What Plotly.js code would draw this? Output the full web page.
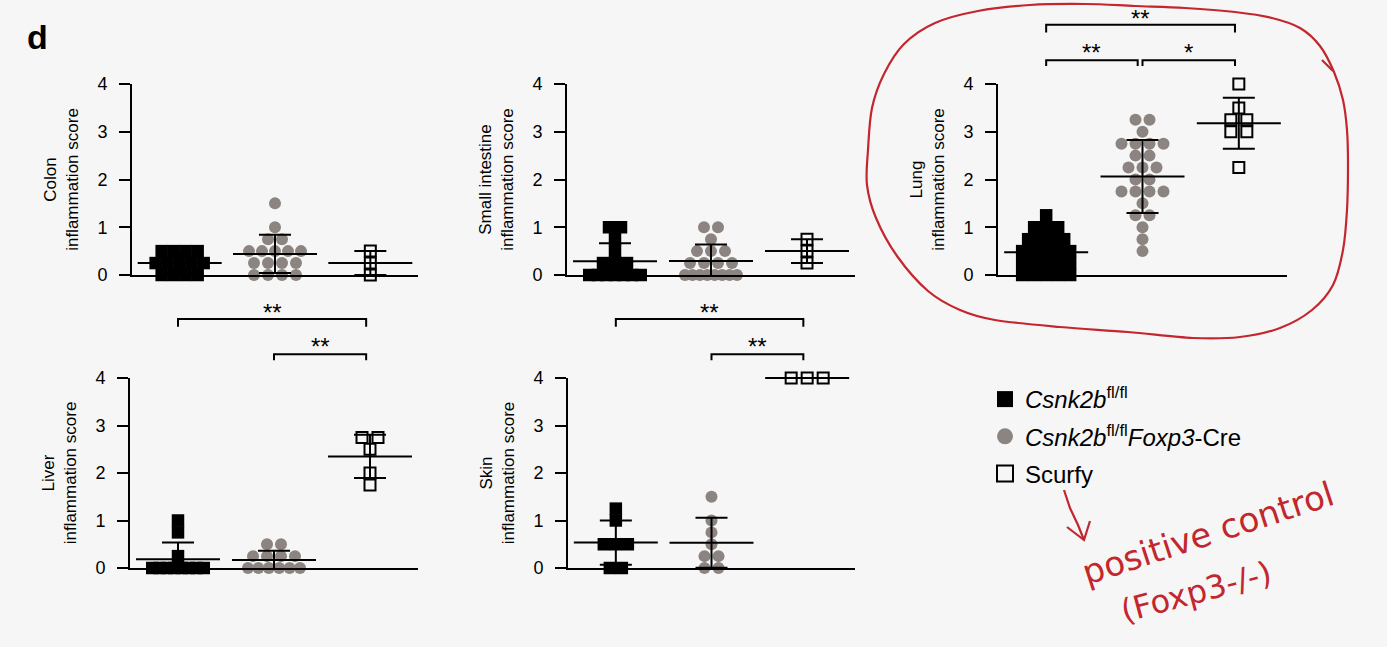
<!DOCTYPE html>
<html>
<head>
<meta charset="utf-8">
<script src="https://cdn.plot.ly/plotly-3.0.1.min.js"></script>
<style>
html,body{margin:0;padding:0;background:#f6f6f6;}
#chart{width:1387px;height:647px;}
</style>
</head>
<body>
<div id="chart"></div>
<script>
// ---------------- DATA ----------------
const groupNames = ['Csnk2b fl/fl', 'Csnk2b fl/fl Foxp3-Cre', 'Scurfy'];
const legendLabels = ['<i>Csnk2b</i><sup>fl/fl</sup>', '<i>Csnk2b</i><sup>fl/fl</sup><i>Foxp3</i>-Cre', 'Scurfy'];
const organs = ['Colon', 'Small intestine', 'Lung', 'Liver', 'Skin'];
const yTickValues = [0, 1, 2, 3, 4];
const yTickLabels = ['0', '1', '2', '3', '4'];

const colonCtrl    = [0.5, 0.5, 0.5, 0.5, 0.25, 0.25, 0.25, 0.25, 0.25, 0, 0, 0, 0];
const colonCre     = [1.5, 1, 0.75, 0.75, 0.5, 0.5, 0.5, 0.5, 0.5, 0.25, 0.25, 0.25, 0.25, 0, 0, 0, 0];
const colonScurfy  = [0.5, 0.25, 0];

const siCtrl       = [1, 1, 0.75, 0.5, 0.25, 0.25, 0.25, 0, 0, 0, 0, 0, 0, 0];
const siCre        = [1, 1, 0.75, 0.5, 0.5, 0.5, 0.25, 0.25, 0.25, 0.25, 0, 0, 0, 0, 0, 0, 0, 0];
const siScurfy     = [0.75, 0.5, 0.25];

const lungCtrl     = [1.25, 1, 1, 1, 0.75, 0.75, 0.75, 0.75, 0.5, 0.5, 0.5, 0.5, 0.5, 0.25, 0.25, 0.25, 0.25, 0.25, 0, 0, 0, 0, 0];
const lungCre      = [3.25, 3.25, 3, 2.75, 2.75, 2.75, 2.75, 2.5, 2.5, 2.25, 2.25, 2.25, 2, 2, 1.75, 1.75, 1.75, 1.75, 1.5, 1.25, 1.25, 1, 0.75, 0.5];
const lungScurfy   = [4, 3.5, 3.25, 3.25, 3, 3, 2.25];

const liverCtrl    = [1, 0.75, 0.25, 0, 0, 0, 0, 0, 0, 0, 0];
const liverCre     = [0.5, 0.5, 0.25, 0.25, 0.25, 0.25, 0, 0, 0, 0, 0, 0];
const liverScurfy  = [2.75, 2.75, 2.5, 2, 1.75];

const skinCtrl     = [1.25, 1, 0.5, 0.5, 0.5, 0, 0];
const skinCre      = [1.5, 1, 0.75, 0.5, 0.25, 0.25, 0, 0];
const skinScurfy   = [4, 4, 4];

// significance comparisons: [group a, group b, label, level]
const lungSig  = [[0, 1, '**', 0], [1, 2, '*', 0], [0, 2, '**', 1]];
const liverSig = [[0, 2, '**', 1], [1, 2, '**', 0]];
const skinSig  = [[0, 2, '**', 1], [1, 2, '**', 0]];

// ---------------- LAYOUT GEOMETRY ----------------
const W = 1387, H = 647;
const FONT = 'Liberation Sans, Arial, Helvetica, sans-serif';
const RED = '#c3262d';
const GRAY = '#8b8480';
const BG = '#f6f6f6';

const panels = [
  {organ: organs[0], data: [colonCtrl, colonCre, colonScurfy], px: [132, 418], py: [84, 275], sig: []},
  {organ: organs[1], data: [siCtrl, siCre, siScurfy],          px: [567, 855], py: [84, 275], sig: []},
  {organ: organs[2], data: [lungCtrl, lungCre, lungScurfy],    px: [998, 1287], py: [84, 275], sig: lungSig},
  {organ: organs[3], data: [liverCtrl, liverCre, liverScurfy], px: [130, 418], py: [378, 568], sig: liverSig},
  {organ: organs[4], data: [skinCtrl, skinCre, skinScurfy],    px: [568, 855], py: [378, 568], sig: skinSig}
];

const markerStyles = [
  {symbol: 'square', size: 12.5, color: '#000000', line: {width: 0}},
  {symbol: 'circle', size: 12, color: GRAY, line: {width: 0}},
  {symbol: 'square', size: 11, color: BG, line: {width: 2, color: '#000000'}}
];
const stepPx = [12, 14, 16];
const maxRowPx = 64;

function mean(a) { return a.reduce((s, v) => s + v, 0) / a.length; }
function sd(a) {
  const m = mean(a);
  if (a.length < 2) return 0;
  return Math.sqrt(a.reduce((s, v) => s + (v - m) * (v - m), 0) / (a.length - 1));
}
// scatter-dot arrangement: equal values form a centred row
function arrange(values, center, step, size, pxPerUnit) {
  const rows = new Map();
  values.forEach((v, i) => { if (!rows.has(v)) rows.set(v, []); rows.get(v).push(i); });
  const xs = new Array(values.length);
  rows.forEach(idx => {
    const n = idx.length;
    const s = n > 1 ? Math.min(step, (maxRowPx - size) / (n - 1)) : 0;
    idx.forEach((id, j) => { xs[id] = center + ((j - (n - 1) / 2) * s) / pxPerUnit; });
  });
  return xs;
}

const traces = [];
const layout = {
  width: W, height: H,
  margin: {l: 0, r: 0, t: 0, b: 0},
  paper_bgcolor: BG, plot_bgcolor: BG,
  font: {family: FONT, color: '#000', size: 17},
  showlegend: true,
  legend: {
    x: 985 / W, y: 1 - 377 / H, xanchor: 'left', yanchor: 'top',
    font: {family: FONT, size: 24, color: '#000'},
    bgcolor: 'rgba(0,0,0,0)', tracegroupgap: 3, itemwidth: 30
  },
  shapes: [], annotations: []
};

panels.forEach((p, k) => {
  const n = k + 1;
  const xa = 'x' + (n === 1 ? '' : n), ya = 'y' + (n === 1 ? '' : n);
  const xaKey = 'xaxis' + (n === 1 ? '' : n), yaKey = 'yaxis' + (n === 1 ? '' : n);
  const pxPerUnit = (p.px[1] - p.px[0]) / 3;

  layout[xaKey] = {
    domain: [p.px[0] / W, p.px[1] / W], range: [-0.5, 2.5], anchor: ya,
    showline: true, linewidth: 2, linecolor: '#000', ticks: '', showticklabels: false,
    showgrid: false, zeroline: false, fixedrange: true
  };
  layout[yaKey] = {
    domain: [1 - p.py[1] / H, 1 - p.py[0] / H], range: [0, 4], anchor: xa,
    showline: true, linewidth: 2, linecolor: '#000',
    ticks: 'outside', ticklen: 11, tickwidth: 2, tickcolor: '#000', ticklabelstandoff: 8,
    tickvals: yTickValues, ticktext: yTickLabels,
    tickfont: {family: FONT, size: 18, color: '#000'},
    showgrid: false, zeroline: false, fixedrange: true,
    title: {text: p.organ + '<br>inflammation score', font: {family: FONT, size: 17, color: '#000'}, standoff: 14}
  };

  // individual animals
  p.data.forEach((vals, g) => {
    traces.push({
      type: 'scatter', mode: 'markers', xaxis: xa, yaxis: ya,
      name: groupNames[g], legendgroup: 'g' + g, showlegend: false,
      x: arrange(vals, g, stepPx[g], markerStyles[g].size, pxPerUnit), y: vals,
      marker: markerStyles[g], cliponaxis: false, hoverinfo: 'y'
    });
  });
  // mean ± SD
  traces.push({
    type: 'scatter', mode: 'markers', xaxis: xa, yaxis: ya, showlegend: false,
    name: p.organ + ' mean ± SD',
    x: [0, 1, 2], y: p.data.map(mean),
    marker: {symbol: 'line-ew', size: 60, color: '#000', line: {width: 2, color: '#000'}},
    error_y: {type: 'data', array: p.data.map(sd), visible: true, color: '#000', thickness: 2, width: 16},
    cliponaxis: false, hoverinfo: 'y'
  });

  // significance brackets
  const lowY = 1.125, lowTick = 1.094, highY = 1.31, highTick = 1.27;
  p.sig.forEach(([a, b, label, level]) => {
    const y0 = level ? highY : lowY, yt = level ? highTick : lowTick;
    const xa0 = a;
    const xb = (level === 0 && b === 1) ? 0.95 : 1.96;
    layout.shapes.push({
      type: 'path', xref: xa, yref: ya + ' domain',
      path: `M ${xa0},${yt} L ${xa0},${y0} L ${xb},${y0} L ${xb},${yt}`,
      line: {color: '#000', width: 2}
    });
    layout.annotations.push({
      xref: xa, yref: ya + ' domain', x: (xa0 + xb) / 2, y: level ? 1.345 : 1.165,
      text: label, showarrow: false, xanchor: 'center', yanchor: 'middle',
      font: {family: FONT, size: 24, color: '#000'}
    });
  });
});

// legend entries
markerStyles.forEach((m, g) => {
  traces.push({
    type: 'scatter', mode: 'markers', x: [null], y: [null], xaxis: 'x', yaxis: 'y',
    name: legendLabels[g], legendgroup: 'g' + g, showlegend: true,
    marker: Object.assign({}, m, {size: 16})
  });
});

// panel letter
layout.annotations.push({
  xref: 'paper', yref: 'paper', x: 37 / W, y: 1 - 37 / H, text: '<b>d</b>', showarrow: false,
  xanchor: 'center', yanchor: 'middle', font: {family: FONT, size: 34, color: '#000'}
});

// hand-drawn red loop around the lung panel
const loopPx = [
  [868, 150], [872, 108], [884, 74], [904, 44], [935, 23], [978, 11], [1030, 5], [1085, 4], [1135, 6],
  [1185, 8], [1235, 12], [1272, 18], [1300, 28], [1320, 46], [1334, 72], [1343, 100], [1347, 130],
  [1348, 165], [1347, 210], [1343, 250], [1333, 285], [1312, 310], [1280, 328], [1240, 337],
  [1193, 338], [1128, 332], [1060, 327], [995, 320], [960, 310], [928, 291], [897, 256],
  [876, 218], [867, 185]
];
function toPaper(p) { return [p[0] / W, 1 - p[1] / H]; }
function smoothClosed(pts) {
  const P = pts.map(toPaper), n = P.length;
  let d = `M ${P[0][0]},${P[0][1]}`;
  for (let i = 0; i < n; i++) {
    const p0 = P[(i - 1 + n) % n], p1 = P[i], p2 = P[(i + 1) % n], p3 = P[(i + 2) % n];
    const c1 = [p1[0] + (p2[0] - p0[0]) / 6, p1[1] + (p2[1] - p0[1]) / 6];
    const c2 = [p2[0] - (p3[0] - p1[0]) / 6, p2[1] - (p3[1] - p1[1]) / 6];
    d += ` C ${c1[0]},${c1[1]} ${c2[0]},${c2[1]} ${p2[0]},${p2[1]}`;
  }
  return d;
}
function polyPath(pts) {
  return pts.map(toPaper).map((q, i) => (i ? 'L ' : 'M ') + q[0] + ',' + q[1]).join(' ');
}
layout.shapes.push({type: 'path', xref: 'paper', yref: 'paper', path: smoothClosed(loopPx), line: {color: RED, width: 2.2}});
layout.shapes.push({type: 'path', xref: 'paper', yref: 'paper', path: polyPath([[1322, 60], [1333, 71]]), line: {color: RED, width: 2.2}});
// hand-drawn arrow
layout.shapes.push({type: 'path', xref: 'paper', yref: 'paper',
  path: polyPath([[1064, 490], [1070, 508], [1078, 525], [1084, 540]]), line: {color: RED, width: 2.2}});
layout.shapes.push({type: 'path', xref: 'paper', yref: 'paper',
  path: polyPath([[1067, 527], [1084, 540], [1090, 521]]), line: {color: RED, width: 2.2}});

// handwritten note
layout.annotations.push({
  xref: 'paper', yref: 'paper', x: 1208 / W, y: 1 - 533 / H, text: 'positive control',
  textangle: -18, showarrow: false, xanchor: 'center', yanchor: 'middle',
  font: {family: 'DejaVu Sans, sans-serif', size: 34, color: RED}
});
layout.annotations.push({
  xref: 'paper', yref: 'paper', x: 1196 / W, y: 1 - 592 / H, text: '(Foxp3-/-)',
  textangle: -15, showarrow: false, xanchor: 'center', yanchor: 'middle',
  font: {family: 'DejaVu Sans, sans-serif', size: 32, color: RED}
});

Plotly.newPlot('chart', traces, layout, {displayModeBar: false, staticPlot: true});
</script>
</body>
</html>
